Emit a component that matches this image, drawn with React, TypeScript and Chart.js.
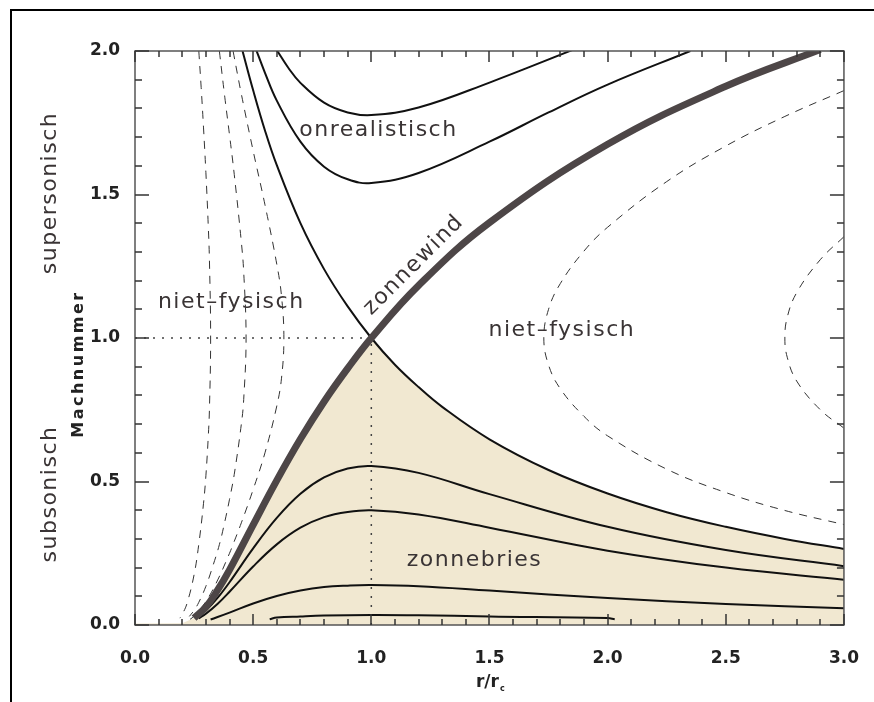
import React, { useEffect, useRef } from 'react';
import { Chart, registerables } from 'chart.js';
Chart.register(...registerables);

// ---- axis ticks ----
const xTickValues = [0, 0.5, 1.0, 1.5, 2.0, 2.5, 3.0];
const yTickValues = [0, 0.5, 1.0, 1.5, 2.0];

// ---- subsonic region (filled) upper boundary ----
const fillR = [0, 0.2, 0.25, 0.3, 0.35, 0.4, 0.5, 0.6, 0.7, 0.8, 0.9, 1.0, 1.1, 1.2, 1.3, 1.5, 1.75, 2.0, 2.25, 2.5, 2.75, 3.0];
const fillM = [0.005, 0.006, 0.024, 0.063, 0.122, 0.192, 0.349, 0.504, 0.648, 0.778, 0.894, 1.0, 0.907, 0.829, 0.76, 0.647, 0.54, 0.458, 0.393, 0.342, 0.3, 0.265];

// ---- zonnewind (thick critical solution) ----
const windR = [0.25, 0.3, 0.35, 0.4, 0.5, 0.6, 0.7, 0.8, 0.9, 1.0, 1.2, 1.5, 2.0, 2.5, 2.9];
const windM = [0.024, 0.063, 0.122, 0.192, 0.349, 0.504, 0.648, 0.778, 0.894, 1.0, 1.183, 1.402, 1.675, 1.877, 2.005];

// ---- other critical branch (thin) ----
const critR = [0.455, 0.5, 0.55, 0.6, 0.7, 0.8, 0.9, 1.0, 1.1, 1.2, 1.3, 1.5, 1.75, 2.0, 2.25, 2.5, 2.75, 3.0];
const critM = [2.0, 1.863, 1.723, 1.602, 1.4, 1.24, 1.11, 1.0, 0.907, 0.829, 0.76, 0.647, 0.54, 0.458, 0.393, 0.342, 0.3, 0.265];

// ---- onrealistisch ----
const unrealLowR = [0.51, 0.55, 0.6, 0.7, 0.8, 0.9, 1.0, 1.2, 1.5, 1.75, 2.0, 2.35];
const unrealLowM = [2.01, 1.924, 1.827, 1.684, 1.597, 1.553, 1.54, 1.575, 1.684, 1.786, 1.883, 2.0];
const unrealHighR = [0.6, 0.65, 0.7, 0.8, 0.9, 1.0, 1.2, 1.5, 1.85];
const unrealHighM = [2.003, 1.94, 1.889, 1.82, 1.786, 1.777, 1.803, 1.89, 2.003];

// ---- zonnebries ----
const breezeAR = [0.27, 0.3, 0.35, 0.4, 0.5, 0.6, 0.7, 0.8, 0.9, 1.0, 1.2, 1.5, 2.0, 2.5, 3.0];
const breezeAM = [0.029, 0.05, 0.095, 0.149, 0.267, 0.373, 0.457, 0.514, 0.545, 0.554, 0.53, 0.456, 0.342, 0.261, 0.205];
const breezeBR = [0.27, 0.3, 0.35, 0.4, 0.5, 0.6, 0.7, 0.8, 0.9, 1.0, 1.2, 1.5, 2.0, 2.5, 3.0];
const breezeBM = [0.023, 0.039, 0.074, 0.116, 0.204, 0.281, 0.339, 0.376, 0.394, 0.4, 0.385, 0.339, 0.259, 0.2, 0.158];
const breezeCR = [0.32, 0.4, 0.5, 0.6, 0.7, 0.8, 0.9, 1.0, 1.2, 1.5, 2.0, 2.5, 3.0];
const breezeCM = [0.019, 0.043, 0.075, 0.101, 0.12, 0.132, 0.137, 0.139, 0.135, 0.12, 0.094, 0.073, 0.058];
const breezeDR = [0.57, 0.6, 0.7, 0.8, 1.0, 1.2, 1.5, 2.0, 2.03];
const breezeDM = [0.02, 0.026, 0.03, 0.033, 0.035, 0.034, 0.03, 0.024, 0.02];

// ---- niet-fysisch (dashed) ----
const dashL1R = [0.27, 0.28, 0.29, 0.3, 0.31, 0.315, 0.32, 0.315, 0.31, 0.3, 0.29, 0.27, 0.25, 0.22, 0.2, 0.19];
const dashL1M = [2.0, 1.873, 1.732, 1.576, 1.391, 1.27, 1.0, 0.752, 0.656, 0.52, 0.424, 0.282, 0.175, 0.075, 0.037, 0.024];
const dashL2R = [0.357, 0.38, 0.4, 0.42, 0.45, 0.46, 0.47, 0.46, 0.45, 0.42, 0.4, 0.38, 0.357, 0.33, 0.3, 0.27, 0.25, 0.23];
const dashL2M = [2.0, 1.839, 1.707, 1.57, 1.334, 1.23, 1.0, 0.786, 0.7, 0.525, 0.438, 0.36, 0.28, 0.207, 0.135, 0.079, 0.051, 0.03];
const dashL3R = [0.415, 0.45, 0.5, 0.55, 0.6, 0.62, 0.63, 0.62, 0.6, 0.55, 0.5, 0.45, 0.415, 0.4, 0.35, 0.3, 0.25, 0.23];
const dashL3M = [2.0, 1.85, 1.652, 1.464, 1.257, 1.146, 1.0, 0.86, 0.763, 0.6, 0.472, 0.356, 0.281, 0.25, 0.157, 0.082, 0.031, 0.018];
const dashR1R = [3.0, 2.75, 2.5, 2.25, 2.0, 1.9, 1.8, 1.75, 1.73, 1.75, 1.8, 1.9, 2.0, 2.25, 2.5, 2.75, 3.0];
const dashR1M = [1.862, 1.772, 1.669, 1.545, 1.386, 1.303, 1.19, 1.1, 1.0, 0.906, 0.823, 0.727, 0.659, 0.543, 0.4615, 0.399, 0.35];
const dashR2R = [3.0, 2.9, 2.8, 2.76, 2.75, 2.76, 2.8, 2.9, 3.0];
const dashR2M = [1.353, 1.273, 1.158, 1.072, 1.0, 0.933, 0.85, 0.75, 0.686];

// ---- dotted guide lines ----
const guideHR = [0, 1.0];
const guideHM = [1.0, 1.0];
const guideVR = [1.0, 1.0];
const guideVM = [0, 1.0];

// ---- region labels ----
const regionLabels = [
  { text: 'onrealistisch', x: 0.695, y: 1.725 },
  { text: 'niet\u2013fysisch', x: 0.097, y: 1.125 },
  { text: 'niet\u2013fysisch', x: 1.496, y: 1.028 },
  { text: 'zonnebries', x: 1.15, y: 0.226 },
];

const pts = (xs: number[], ys: number[]) => xs.map((x, i) => ({ x, y: ys[i] }));

const TEXT = '#3a3435';
const FONT = '"DejaVu Sans", "Liberation Sans", sans-serif';

function line(xs: number[], ys: number[], color: string, width: number, dash: number[], order: number, tension = 0.4) {
  return {
    data: pts(xs, ys),
    showLine: true,
    pointRadius: 0,
    borderColor: color,
    borderWidth: width,
    borderDash: dash,
    borderCapStyle: 'butt',
    borderJoinStyle: 'round',
    tension,
    fill: false,
    order,
    clip: 0,
  };
}

const decor = {
  id: 'decor',
  beforeDraw(chart: any) {
    const { ctx, width, height } = chart;
    ctx.save();
    ctx.fillStyle = '#ffffff';
    ctx.fillRect(0, 0, width, height);
    ctx.restore();
  },
  afterDatasetsDraw(chart: any) {
    const { ctx, chartArea: a } = chart;
    const xs = chart.scales.x;
    const ys = chart.scales.y;
    ctx.save();
    ctx.setLineDash([]);
    // plot box
    ctx.strokeStyle = '#555555';
    ctx.lineWidth = 1.5;
    ctx.strokeRect(a.left, a.top, a.right - a.left, a.bottom - a.top);
    // inward ticks
    ctx.strokeStyle = '#333333';
    ctx.lineWidth = 1.5;
    ctx.beginPath();
    for (let i = 0; i <= 30; i++) {
      const v = i / 10;
      const px = Math.round(xs.getPixelForValue(v));
      const len = i % 5 === 0 ? 11 : 6;
      ctx.moveTo(px, a.bottom);
      ctx.lineTo(px, a.bottom - len);
      ctx.moveTo(px, a.top);
      ctx.lineTo(px, a.top + len);
    }
    for (let i = 0; i <= 20; i++) {
      const v = i / 10;
      const py = Math.round(ys.getPixelForValue(v));
      const len = i % 5 === 0 ? 14 : 7;
      ctx.moveTo(a.left, py);
      ctx.lineTo(a.left + len, py);
      ctx.moveTo(a.right, py);
      ctx.lineTo(a.right - len, py);
    }
    ctx.stroke();

    // region labels
    ctx.fillStyle = TEXT;
    ctx.font = `22px ${FONT}`;
    (ctx as any).letterSpacing = '1.5px';
    ctx.textBaseline = 'middle';
    ctx.textAlign = 'left';
    for (const l of regionLabels) {
      ctx.fillText(l.text, xs.getPixelForValue(l.x), ys.getPixelForValue(l.y));
    }
    // zonnewind rotated along the curve
    ctx.save();
    ctx.translate(xs.getPixelForValue(1.18), ys.getPixelForValue(1.254));
    ctx.rotate(-Math.PI / 4);
    ctx.textAlign = 'center';
    ctx.fillText('zonnewind', 0, 0);
    ctx.restore();

    // left side rotated labels
    const rot = (t: string, x: number, y: number, font: string, ls: string) => {
      ctx.save();
      ctx.translate(x, y);
      ctx.rotate(-Math.PI / 2);
      ctx.font = font;
      (ctx as any).letterSpacing = ls;
      ctx.textAlign = 'center';
      ctx.textBaseline = 'middle';
      ctx.fillText(t, 0, 0);
      ctx.restore();
    };
    rot('supersonisch', 50, 193, `22px ${FONT}`, '1.5px');
    rot('subsonisch', 50, 494, `22px ${FONT}`, '1.5px');
    ctx.fillStyle = '#222';
    rot('Machnummer', 79, 364, `bold 16px ${FONT}`, '2.5px');

    // x axis title r/r_c
    ctx.fillStyle = '#222';
    ctx.font = `bold 17px ${FONT}`;
    (ctx as any).letterSpacing = '0px';
    ctx.textAlign = 'left';
    ctx.textBaseline = 'middle';
    const cx = (a.left + a.right) / 2;
    const main = 'r/r';
    const w = ctx.measureText(main).width;
    ctx.fillText(main, cx - w / 2 - 2, 683);
    ctx.font = `bold 8px ${FONT}`;
    ctx.fillText('c', cx + w / 2 - 1, 689);

    // outer frame
    ctx.strokeStyle = '#000';
    ctx.lineWidth = 2;
    ctx.beginPath();
    ctx.moveTo(11, 702);
    ctx.lineTo(11, 10);
    ctx.lineTo(874, 10);
    ctx.stroke();
    ctx.restore();
  },
};

export default function App() {
  const ref = useRef<HTMLCanvasElement>(null);
  useEffect(() => {
    const dotted = [2, 7];
    const dashed = [8, 7];
    const chart = new Chart(ref.current as HTMLCanvasElement, {
      type: 'scatter',
      data: {
        datasets: [
          line(windR, windM, '#4d4647', 7, [], 0),
          line(critR, critM, '#111', 2, [], 1),
          line(unrealLowR, unrealLowM, '#111', 2, [], 1),
          line(unrealHighR, unrealHighM, '#111', 2, [], 1),
          line(breezeAR, breezeAM, '#111', 2, [], 1),
          line(breezeBR, breezeBM, '#111', 2, [], 1),
          line(breezeCR, breezeCM, '#111', 2, [], 1),
          line(breezeDR, breezeDM, '#111', 2, [], 1),
          line(dashL1R, dashL1M, '#333', 1, dashed, 2),
          line(dashL2R, dashL2M, '#333', 1, dashed, 2),
          line(dashL3R, dashL3M, '#333', 1, dashed, 2),
          line(dashR1R, dashR1M, '#333', 1, dashed, 2),
          line(dashR2R, dashR2M, '#333', 1, dashed, 2),
          line(guideHR, guideHM, '#444', 1.5, dotted, 3, 0),
          line(guideVR, guideVM, '#444', 1.5, dotted, 3, 0),
          {
            data: pts(fillR, fillM),
            showLine: true,
            pointRadius: 0,
            borderWidth: 0,
            borderColor: 'rgba(0,0,0,0)',
            backgroundColor: '#f1e8d1',
            fill: 'origin',
            tension: 0,
            order: 20,
            clip: 0,
          },
        ] as any,
      },
      options: {
        responsive: false,
        animation: false,
        events: [],
        layout: { padding: { top: 51, right: 27, bottom: 0, left: 0 } },
        plugins: { legend: { display: false }, tooltip: { enabled: false }, title: { display: false } },
        scales: {
          x: {
            type: 'linear',
            min: 0,
            max: 3,
            grid: { display: false },
            border: { display: false },
            afterBuildTicks: (s: any) => { s.ticks = xTickValues.map((v) => ({ value: v })); },
            afterFit: (s: any) => { s.height = 77; },
            ticks: {
              padding: 15,
              color: '#222',
              font: { family: FONT, size: 17, weight: 'bold' },
              maxRotation: 0,
              callback: (v: any) => Number(v).toFixed(1),
            },
          },
          y: {
            type: 'linear',
            min: 0,
            max: 2,
            grid: { display: false },
            border: { display: false },
            afterBuildTicks: (s: any) => { s.ticks = yTickValues.map((v) => ({ value: v })); },
            afterFit: (s: any) => { s.width = 135; },
            ticks: {
              padding: 7,
              color: '#222',
              font: { family: FONT, size: 17, weight: 'bold' },
              callback: (v: any) => Number(v).toFixed(1),
            },
          },
        },
      } as any,
      plugins: [decor],
    });
    return () => chart.destroy();
  }, []);
  return (
    <div style={{ position: 'absolute', left: 0, top: 0, width: 874, height: 702, background: '#fff' }}>
      <canvas ref={ref} width={874} height={702} style={{ display: 'block', width: 874, height: 702 }} />
    </div>
  );
}
